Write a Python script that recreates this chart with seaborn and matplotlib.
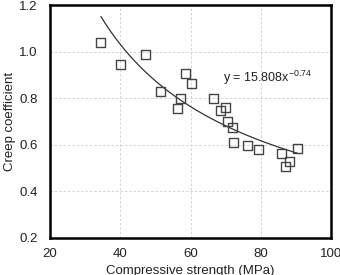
import numpy as np
import pandas as pd
import seaborn as sns
import matplotlib.pyplot as plt

# compressive strength (MPa) vs creep coefficient
STRENGTH = [34.5, 40.2, 47.1, 51.5, 57.1, 56.4, 58.7, 60.4, 66.6, 68.4,
            69.9, 70.6, 71.9, 72.3, 76.1, 79.5, 86.0, 88.2, 87.0, 90.6]
CREEP = [1.038, 0.944, 0.987, 0.827, 0.798, 0.755, 0.904, 0.861, 0.798, 0.749,
         0.759, 0.699, 0.676, 0.612, 0.598, 0.578, 0.563, 0.529, 0.509, 0.585]

# power trendline from the chart
COEF = 15.808
EXPO = -0.74
FIT_RANGE = (34.5, 90.5)

sns.set_theme(style='white')
plt.rcParams['font.family'] = ['Liberation Sans', 'DejaVu Sans']

df = pd.DataFrame({'strength': STRENGTH, 'creep': CREEP})

fig = plt.figure(figsize=(3.4, 2.75), dpi=100)
ax = fig.add_axes([50 / 340, 1 - 238 / 275, 281 / 340, 233 / 275])

xf = np.linspace(FIT_RANGE[0], FIT_RANGE[1], 200)
ax.plot(xf, COEF * xf ** EXPO, color='#333333', lw=0.9, zorder=2)

sns.scatterplot(data=df, x='strength', y='creep', ax=ax, marker='s', s=42,
                facecolor='none', edgecolor='#444444', linewidth=1.0, zorder=3)

ax.set_xlim(20, 100)
ax.set_ylim(0.2, 1.2)
ax.set_xticks([20, 40, 60, 80, 100])
ax.set_yticks([0.2, 0.4, 0.6, 0.8, 1.0, 1.2])
ax.set_yticklabels(['0.2', '0.4', '0.6', '0.8', '1.0', '1.2'])
ax.grid(True, color='#d4d4d4', linestyle=(0, (2.5, 2)), linewidth=0.7)
ax.tick_params(axis='both', length=0, labelsize=9.5, colors='#222222')
ax.tick_params(axis='y', pad=9)
ax.tick_params(axis='x', pad=7)
for sp in ax.spines.values():
    sp.set_color('black')
    sp.set_linewidth(1.8)

ax.set_xlabel('Compressive strength (MPa)', fontsize=9.5, color='#222222', labelpad=4)
ax.set_ylabel('Creep coefficient', fontsize=9.5, color='#222222', labelpad=2)

ax.text(69.3, 0.887, r'y = 15.808x$^{\mathregular{-0.74}}$', fontsize=9,
        color='#222222', ha='left', va='center')

fig.savefig('out.png', dpi=100)
